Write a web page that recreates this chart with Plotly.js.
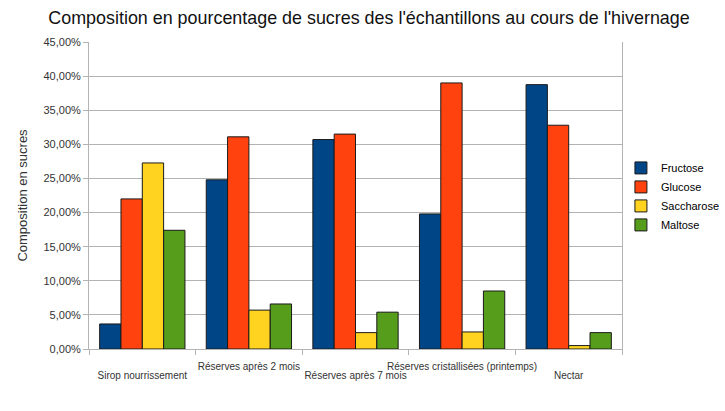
<!DOCTYPE html>
<html>
<head>
<meta charset="utf-8">
<script src="https://cdn.plot.ly/plotly-3.0.1.min.js"></script>
<style>html,body{margin:0;padding:0;background:#fff;}#chart{width:725px;height:411px;}</style>
</head>
<body>
<div id="chart"></div>
<script>
const categories = ["Sirop nourrissement", "Réserves après 2 mois", "Réserves après 7 mois", "Réserves cristallisées (printemps)", "Nectar"];
const seriesNames = ["Fructose", "Glucose", "Saccharose", "Maltose"];
const fructose   = [0.0367, 0.248, 0.307, 0.198, 0.3875];
const glucose    = [0.220, 0.311, 0.315, 0.390, 0.328];
const saccharose = [0.2727, 0.057, 0.024, 0.025, 0.005];
const maltose    = [0.174, 0.066, 0.054, 0.085, 0.024];
const colors = ["#004586", "#ff420e", "#ffd320", "#579d1c"];
const values = [fructose, glucose, saccharose, maltose];

const idx = categories.map((c, i) => i);
// staggered category labels: odd indices on the upper row, even on the lower row
const upperText = categories.map((c, i) => (i % 2 === 1 ? c : ""));
const lowerText = categories.map((c, i) => (i % 2 === 0 ? c : ""));
const xRange = [-0.5, categories.length - 0.5];

const traces = values.map((v, k) => ({
  type: "bar",
  name: seriesNames[k],
  x: idx,
  y: v,
  marker: { color: colors[k], line: { color: "#1a1a1a", width: 1 } },
  hoverinfo: "none"
}));

const labelFont = { size: 10, color: "#333333", family: "Liberation Sans, Arial, sans-serif" };

const layout = {
  width: 725, height: 411,
  margin: { l: 89, r: 103, t: 42, b: 62, autoexpand: false },
  paper_bgcolor: "#ffffff", plot_bgcolor: "#ffffff",
  separators: ", ",
  font: { family: "Liberation Sans, Arial, sans-serif", color: "#333333", size: 11 },
  title: {
    text: "Composition en pourcentage de sucres des l'échantillons au cours de l'hivernage",
    font: { size: 17.9, color: "#111111", family: "Liberation Sans, Arial, sans-serif" },
    x: 0.509, xref: "container", xanchor: "center", y: 0.957, yanchor: "middle"
  },
  barmode: "group", bargap: 0.2, bargroupgap: 0,
  xaxis: {
    tickmode: "array", tickvals: idx, ticktext: upperText, tickangle: 0,
    range: xRange, showgrid: false, zeroline: false,
    showline: true, linecolor: "#b3b3b3", linewidth: 1,
    ticks: "", ticklabelstandoff: 8, tickfont: labelFont, automargin: false,
    fixedrange: true
  },
  xaxis2: {
    overlaying: "x", range: xRange, anchor: "y", side: "bottom",
    tickmode: "array", tickvals: categories.map((c, i) => i - 0.5).concat([categories.length - 0.5]),
    ticktext: categories.map(() => "").concat([""]),
    ticks: "outside", ticklen: 5, tickcolor: "#b3b3b3", automargin: false,
    showgrid: false, zeroline: false, showline: false
  },
  xaxis3: {
    overlaying: "x", range: xRange, anchor: "y", side: "bottom",
    tickmode: "array", tickvals: idx, ticktext: lowerText, tickangle: 0,
    ticks: "", ticklabelstandoff: 19, tickfont: labelFont, automargin: false,
    showgrid: false, zeroline: false, showline: false
  },
  yaxis: {
    range: [0, 0.45], dtick: 0.05, tick0: 0, tickformat: ".2%",
    showgrid: true, gridcolor: "#b3b3b3", gridwidth: 1,
    zeroline: false, showline: true, linecolor: "#b3b3b3", linewidth: 1,
    automargin: false,
    ticks: "outside", ticklen: 5, tickcolor: "#b3b3b3",
    tickfont: { size: 11, color: "#333333" },
    title: { text: "Composition en sucres", font: { size: 13, color: "#333333" }, standoff: 12 },
    fixedrange: true
  },
  yaxis2: {
    overlaying: "y", range: [0, 0.45], side: "right", anchor: "x", automargin: false,
    showline: true, linecolor: "#b3b3b3", showticklabels: false, ticks: "", showgrid: false, zeroline: false
  },
  legend: {
    x: 0.998, xanchor: "left", y: 0.497, yanchor: "middle",
    font: { size: 11, color: "#000000" }, tracegroupgap: 0, itemwidth: 30,
    bgcolor: "rgba(0,0,0,0)"
  },
  showlegend: true
};

// invisible helper traces that activate the secondary axes (frame, category ticks, lower label row)
traces.push({ type: "scatter", x: [0], y: [0], xaxis: "x2", yaxis: "y2", mode: "markers",
  marker: { opacity: 0 }, showlegend: false, hoverinfo: "none" });
traces.push({ type: "scatter", x: [0], y: [0], xaxis: "x3", yaxis: "y", mode: "markers",
  marker: { opacity: 0 }, showlegend: false, hoverinfo: "none" });

Plotly.newPlot("chart", traces, layout, { displayModeBar: false, staticPlot: true });
</script>
</body>
</html>
